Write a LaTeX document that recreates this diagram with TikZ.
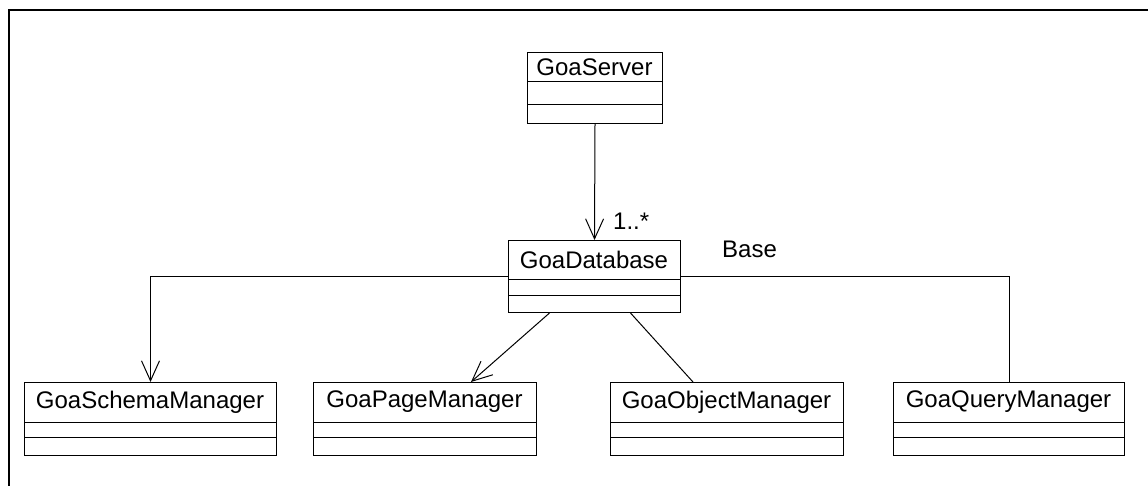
\documentclass[tikz,border=0pt]{standalone}
\usepackage{fontspec}
\setmainfont{Liberation Sans}
\usetikzlibrary{arrows.meta,calc}
\tikzset{
  classbox/.style={draw, line width=1pt, inner sep=0pt, anchor=north west},
  classname/.style={font=\fontsize{24}{28}\selectfont, inner sep=0pt},
  classline/.style={line width=1pt},
  assoc/.style={line width=1pt},
  navarrow/.style={line width=1pt, -{Straight Barb[length=20pt,width=18pt]}},
  tag/.style={font=\fontsize{24}{28}\selectfont, inner sep=0pt, anchor=base west},
  frameline/.style={line width=2pt}
}
% UML class: name, left, top, right, first divider, second divider, bottom, class name
\newcommand\umlclass[8]{%
  \node[classbox, minimum width={#4-#2}, minimum height={#7-#3}] (#1) at (#2,#3) {};
  \node[classname] (#1-name) at ($(#2,#3)!0.5!(#4,#5)$) {#8};
  \draw[classline] (#2,#5) -- (#4,#5) (#2,#6) -- (#4,#6);
}
\begin{document}
\begin{tikzpicture}[x=1pt,y=-1pt]
\useasboundingbox (0,0) rectangle (1148,486);
\draw[frameline] (1148,10) -- (9,10) -- (9,486);

\umlclass{server}{527}{52}{662}{82}{105}{123}{GoaServer}
\umlclass{db}{508}{240}{680}{280}{295}{312}{GoaDatabase}
\umlclass{schema}{24}{382}{276}{422}{437}{455}{GoaSchemaManager}
\umlclass{page}{313}{382}{536}{422}{437}{455}{GoaPageManager}
\umlclass{object}{610}{382}{843}{422}{437}{455}{GoaObjectManager}
\umlclass{query}{893}{382}{1124}{422}{437}{455}{GoaQueryManager}

\draw[navarrow] (server.south) -- (db.north);
\draw[navarrow] (db.west) -| (schema.north);
\draw[navarrow] ([xshift=-45pt]db.south) -- ([xshift=46pt]page.north);
\draw[assoc] ([xshift=36pt]db.south) -- ([xshift=-34pt]object.north);
\draw[assoc] (db.east) -| (query.north);

\node[tag] (mult) at (613,230) {1..*};
\node[tag] (role) at (722,258) {Base};
\end{tikzpicture}
\end{document}
